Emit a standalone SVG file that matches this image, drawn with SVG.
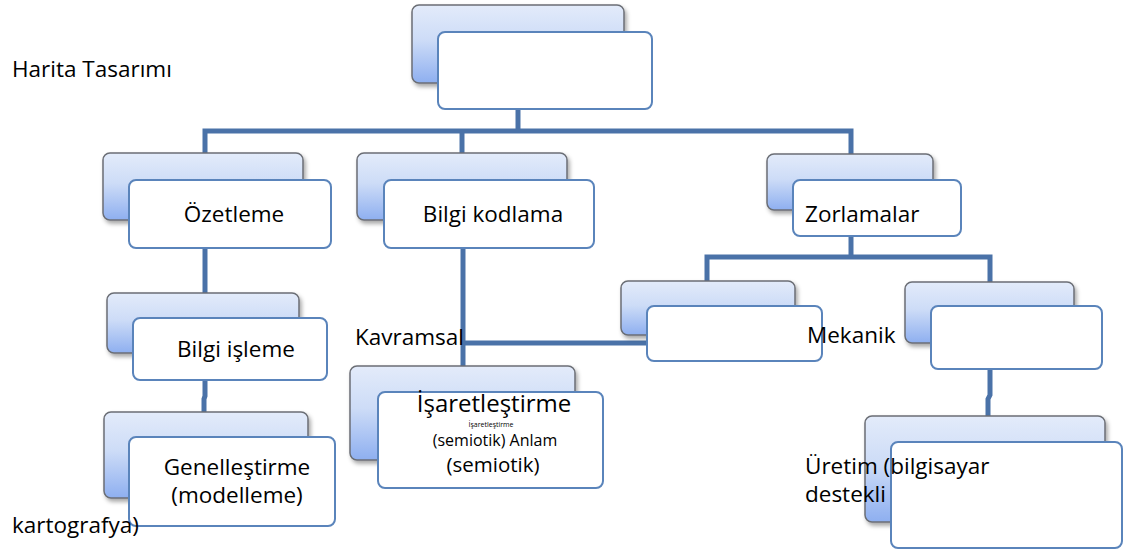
<svg xmlns="http://www.w3.org/2000/svg" width="1125" height="551" viewBox="0 0 1125 551">
<defs>
<linearGradient id="backGrad" x1="0" y1="0" x2="0" y2="1">
<stop offset="0" stop-color="#e3ebfa"/>
<stop offset="0.45" stop-color="#cddcf7"/>
<stop offset="1" stop-color="#8eaff0"/>
</linearGradient>
<filter id="shadow" x="-10%" y="-10%" width="125%" height="135%">
<feDropShadow dx="2" dy="3" stdDeviation="2" flood-color="#000" flood-opacity="0.35"/>
</filter>
</defs>
<style>
.back{fill:url(#backGrad);stroke:#6b6e75;stroke-width:1.5;filter:url(#shadow)}
.front{fill:#ffffff;stroke:#5a84bb;stroke-width:2}
.conn{fill:none;stroke:#4a72a8;stroke-width:5;stroke-linejoin:miter;stroke-linecap:butt}
text{font-family:"Open Sans","Noto Sans","Liberation Sans",sans-serif;fill:#000}
.lbl{font-size:22.5px}
.mid{text-anchor:middle}
</style>
<rect width="1125" height="551" fill="#ffffff"/>
<g id="connectors">
<path class="conn" d="M518 109 V131"/>
<path class="conn" d="M205 153 V131 H851 V154"/>
<path class="conn" d="M462 131 V153"/>
<path class="conn" d="M205 248 V293"/>
<path class="conn" d="M205 380 V396 L204 399 V412"/>
<path class="conn" d="M463 248 V366"/>
<path class="conn" d="M463 343 H647"/>
<path class="conn" d="M851 236 V257"/>
<path class="conn" d="M707 281 V257 H990 V282"/>
<path class="conn" d="M990 369 V395 L988 399 V416"/>
</g>
<g id="node-top">
<rect class="back" x="412" y="5" width="212" height="78" rx="7"/>
<rect class="front" x="438" y="32" width="214" height="77" rx="7"/>
</g>
<g id="node-ozetleme">
<rect class="back" x="103" y="153" width="200" height="67" rx="7"/>
<rect class="front" x="129" y="180" width="202" height="68" rx="7"/>
<text class="lbl mid" x="234" y="222">Özetleme</text>
</g>
<g id="node-bilgi-kodlama">
<rect class="back" x="357" y="153" width="210" height="67" rx="7"/>
<rect class="front" x="384" y="180" width="210" height="68" rx="7"/>
<text class="lbl mid" x="493" y="222">Bilgi kodlama</text>
</g>
<g id="node-zorlamalar">
<rect class="back" x="767" y="154" width="166" height="56" rx="7"/>
<rect class="front" x="793" y="180" width="168" height="56" rx="7"/>
<text class="lbl" x="805" y="222">Zorlamalar</text>
</g>
<g id="node-bilgi-isleme">
<rect class="back" x="107" y="293" width="192" height="60" rx="7"/>
<rect class="front" x="133" y="318" width="194" height="62" rx="7"/>
<text class="lbl mid" x="236" y="357">Bilgi işleme</text>
</g>
<g id="node-genellestirme">
<rect class="back" x="104" y="412" width="204" height="86" rx="7"/>
<rect class="front" x="129" y="437" width="206" height="89" rx="7"/>
<text class="lbl mid" x="237" y="475">Genelleştirme</text>
<text class="lbl mid" x="237" y="503">(modelleme)</text>
</g>
<g id="node-isaretlestirme">
<rect class="back" x="350" y="366" width="225" height="94" rx="7"/>
<rect class="front" x="378" y="392" width="225" height="96" rx="7"/>
<text class="mid" x="494" y="412" font-size="24">İşaretleştirme</text>
<text class="mid" x="491" y="426.5" font-size="7">İşaretleştirme</text>
<text class="mid" x="495" y="446" font-size="16">(semiotik) Anlam</text>
<text class="mid" x="493" y="472" font-size="20.5">(semiotik)</text>
</g>
<g id="node-kavramsal">
<rect class="back" x="621" y="281" width="174" height="54" rx="7"/>
<rect class="front" x="647" y="306" width="175" height="55" rx="7"/>
</g>
<g id="node-mekanik">
<rect class="back" x="905" y="282" width="169" height="61" rx="7"/>
<rect class="front" x="931" y="306" width="171" height="63" rx="7"/>
</g>
<g id="node-uretim">
<rect class="back" x="865" y="416" width="240" height="106" rx="7"/>
<rect class="front" x="891" y="442" width="231" height="106" rx="7"/>
</g>
<g id="free-labels">
<text class="lbl" x="12" y="77">Harita Tasarımı</text>
<text class="lbl" x="355" y="345">Kavramsal</text>
<text class="lbl" x="807" y="343">Mekanik</text>
<text class="lbl" x="805" y="474">Üretim (bilgisayar</text>
<text class="lbl" x="805" y="502">destekli</text>
<text class="lbl" x="12" y="533">kartografya)</text>
</g>
</svg>
